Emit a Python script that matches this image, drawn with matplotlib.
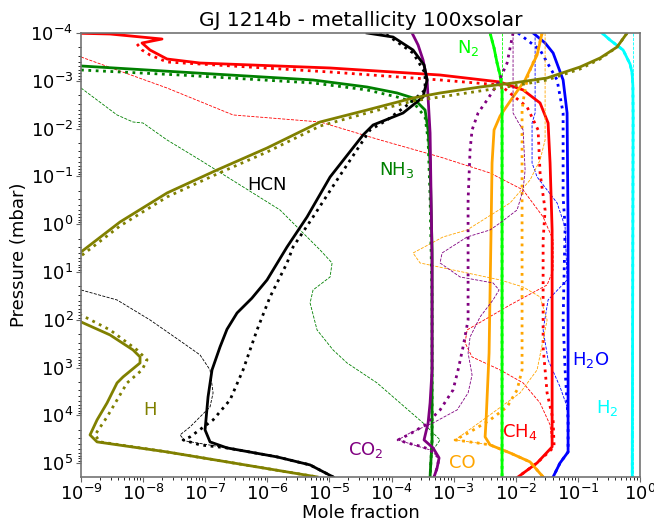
import numpy as np
import matplotlib
matplotlib.use("Agg")
import matplotlib.pyplot as plt
from matplotlib.ticker import LogLocator, NullFormatter

# ---------------- data (log10 pressure [mbar], log10 mole fraction) ----------------
# H2
h2_solid_logp = [-4.0, -3.85, -3.644, -3.35, -3.163, -2.9, -2.243, 5.289]
h2_solid_logx = [-0.61, -0.48, -0.272, -0.16, -0.127, -0.115, -0.111, -0.125]
h2_dash_logp = [-4.0, 5.289]
h2_dash_logx = [-0.111, -0.111]

# H2O
h2o_solid_logp = [-4.0, -3.791, -3.582, -3.017, -2.326, 0.121, 4.661, 4.766, 4.996, 5.289]
h2o_solid_logx = [-1.721, -1.528, -1.399, -1.238, -1.174, -1.158, -1.158, -1.158, -1.287, -1.399]
h2o_dot_logp = [-4.0, -3.644, -3.017, -2.326, -0.569, 0.059, 2.004, 3.05, 4.096, 4.661, 4.766, 4.996, 5.289]
h2o_dot_logx = [-1.963, -1.609, -1.335, -1.238, -1.238, -1.206, -1.238, -1.206, -1.158, -1.158, -1.158, -1.287, -1.399]
h2o_dash_logp = [-4.0, -2.326, -2.117, -1.280, -0.987, -0.444, 0.059, 1.167, 1.586, 2.213, 2.841,
                 3.406, 3.824, 4.243, 4.661, 4.766, 4.996, 5.289]
h2o_dash_logx = [-1.689, -1.689, -1.738, -1.738, -1.657, -1.335, -1.206, -1.174, -1.480, -1.560, -1.480,
                 -1.287, -1.174, -1.158, -1.158, -1.158, -1.287, -1.399]

# CH4
ch4_solid_logp = [-4.0, -3.979, -3.874, -3.791, -3.644, -3.456, -3.372, -3.268, -3.121, -2.975, -2.808,
                  -2.536, -2.117, -1.280, 0.121, 4.661, 4.996, 5.289]
ch4_solid_logx = [-9.2, -8.533, -7.696, -8.018, -7.889, -7.615, -7.084, -4.990, -3.219, -2.253, -1.882,
                  -1.609, -1.480, -1.448, -1.415, -1.415, -1.657, -1.963]
ch4_dot_logp = [-3.770, -3.644, -3.540, -3.393, -3.184, -3.017, -2.912, -2.452, -1.971, -1.071, -0.297,
                0.331, 2.569, 3.531, 4.096, 4.661, 4.996, 5.289]
ch4_dot_logx = [-8.098, -8.018, -7.889, -7.615, -4.990, -3.219, -2.253, -1.818, -1.641, -1.609, -1.528,
                -1.560, -1.560, -1.496, -1.399, -1.383, -1.657, -1.963]
ch4_dash_logp = [-3.498, -2.849, -2.285, -2.138, -1.762, -1.406, -1.071, -0.715, -0.151, 0.331, 0.958,
                 1.272, 1.690, 2.213, 2.485, 2.778, 3.050, 3.322, 3.741, 4.201, 4.661, 4.996, 5.289]
ch4_dash_logx = [-9.0, -7.615, -6.552, -5.151, -4.185, -3.219, -2.414, -1.882, -1.560, -1.399, -1.399,
                 -1.496, -2.092, -2.784, -2.816, -2.704, -2.253, -1.882, -1.609, -1.448, -1.415, -1.657, -1.963]

# CO
co_solid_logp = [-4.0, -3.540, -3.017, -2.661, -2.264, -1.971, -1.280, 0.121, 2.695, 4.096, 4.452,
                 4.619, 4.787, 4.975, 5.289]
co_solid_logx = [-1.576, -1.657, -1.850, -2.044, -2.253, -2.350, -2.382, -2.398, -2.430, -2.478, -2.494,
                 -2.414, -2.092, -1.770, -1.560]
co_dot_logp = [-4.0, -3.582, -3.121, -2.703, -2.389, 3.050, 3.469, 3.824, 4.096, 4.347, 4.515, 4.577,
               4.619, 4.787, 4.975, 5.289]
co_dot_logx = [-1.576, -1.657, -1.802, -1.866, -1.899, -1.899, -1.979, -2.140, -2.414, -2.736, -2.977,
               -2.623, -2.414, -2.092, -1.770, -1.560]
co_dash_logp = [-4.0, -1.762, -1.343, -0.925, -0.444, 0.121, 0.268, 0.603, 0.812, 1.021, 1.167, 1.314,
                1.523, 2.004, 2.423, 3.050, 3.531, 4.096, 4.515, 4.577, 4.619, 4.787, 4.975, 5.289]
co_dash_logx = [-1.528, -1.528, -1.609, -1.770, -2.092, -2.784, -3.171, -3.654, -3.541, -2.784, -2.253,
                -1.882, -1.609, -1.496, -1.560, -1.657, -1.931, -2.527, -2.977, -2.623, -2.414, -2.092,
                -1.770, -1.560]

# N2
n2_solid_logp = [-4.0, -3.686, -3.372, -3.121, -2.808, 5.289]
n2_solid_logx = [-2.414, -2.350, -2.301, -2.253, -2.221, -2.221]
n2_dash_logp = [-4.0, 5.289]
n2_dash_logx = [-2.221, -2.221]

# NH3
nh3_solid_logp = [-3.310, -3.184, -3.017, -2.870, -2.745, -2.640, -2.389, -1.971, -1.280, 0.540, 4.515, 5.289]
nh3_solid_logx = [-9.0, -7.406, -5.264, -4.395, -3.911, -3.654, -3.461, -3.412, -3.380, -3.348, -3.348, -3.380]
nh3_dot_logp = [-3.226, -3.121, -2.954, -2.808, -2.661, -2.556, -2.243, -1.762, -0.569, 1.586, 4.515, 5.289]
nh3_dot_logx = [-9.0, -7.406, -5.264, -4.395, -3.911, -3.654, -3.461, -3.412, -3.380, -3.348, -3.348, -3.380]
nh3_dash_logp = [-2.849, -2.285, -2.138, -2.117, -1.762, -1.343, -0.297, 0.540, 0.812, 1.105, 1.377,
                 1.649, 2.213, 2.632, 2.904, 3.322, 3.741, 4.159, 4.515, 4.724, 4.996, 5.289]
nh3_dash_logx = [-9.0, -8.420, -8.163, -8.002, -7.615, -7.084, -5.796, -5.151, -4.958, -4.990, -5.264,
                 -5.312, -5.200, -4.942, -4.717, -4.234, -3.863, -3.493, -3.219, -3.332, -3.380, -3.380]

# CO2
co2_solid_logp = [-4.0, -3.749, -3.435, -3.017, -1.908, 0.749, 3.050, 3.741, 4.159, 4.515, 4.682,
                  4.891, 5.100, 5.289]
co2_solid_logx = [-3.670, -3.573, -3.493, -3.428, -3.380, -3.348, -3.348, -3.380, -3.412, -3.477, -3.332,
                  -3.235, -3.267, -3.316]
co2_dot_logp = [-4.0, -3.372, -2.954, -2.598, -2.326, -1.971, -1.552, -0.506, 2.004, 2.569, 3.050,
                3.469, 3.887, 4.201, 4.389, 4.515, 4.577, 4.661, 4.724, 4.891, 5.100, 5.289]
co2_dot_logx = [-2.044, -2.140, -2.285, -2.462, -2.607, -2.704, -2.736, -2.768, -2.768, -2.849, -2.929,
                -3.010, -3.219, -3.461, -3.702, -3.895, -3.750, -3.493, -3.380, -3.235, -3.267, -3.316]
co2_dash_logp = [-4.0, -2.326, -2.138, -1.971, -1.134, -0.715, -0.297, -0.025, 0.121, 0.268, 0.603,
                 0.812, 1.105, 1.230, 1.377, 1.586, 1.941, 2.360, 2.695, 3.155, 3.531, 3.887, 4.159,
                 4.368, 4.515, 4.661, 4.724, 4.891, 5.100, 5.289]
co2_dash_logx = [-2.044, -2.044, -1.963, -1.882, -1.850, -1.882, -1.979, -2.253, -2.414, -2.784, -3.187,
                 -3.219, -2.897, -2.366, -2.269, -2.366, -2.575, -2.736, -2.768, -2.704, -2.768, -2.945,
                 -3.332, -3.702, -3.895, -3.541, -3.380, -3.235, -3.267, -3.316]

# HCN
hcn_solid_logp = [-4.0, -3.916, -3.644, -3.331, -3.017, -2.661, -2.326, -2.075, -1.866, -0.987, -0.151,
                  0.477, 1.167, 1.550, 1.858, 2.200, 2.569, 3.050, 3.615, 4.305, 4.556, 4.682, 4.870,
                  5.038, 5.289]
hcn_solid_logx = [-4.395, -3.976, -3.654, -3.477, -3.428, -3.493, -3.815, -4.298, -4.459, -4.990, -5.361,
                  -5.683, -6.005, -6.250, -6.488, -6.650, -6.762, -6.891, -6.955, -7.003, -6.923, -6.649,
                  -5.844, -5.312, -4.942]
hcn_dot_logp = [-4.0, -3.958, -3.582, -3.163, -2.808, -2.536, -2.180, -1.971, -0.925, -0.151, 0.477,
                0.812, 1.523, 2.213, 3.050, 3.678, 4.096, 4.452, 4.515, 4.619, 4.682, 4.870, 5.038, 5.289]
hcn_dot_logx = [-4.2, -4.072, -3.654, -3.461, -3.461, -3.702, -4.072, -4.346, -4.878, -5.264, -5.586,
                -5.683, -5.957, -6.166, -6.391, -6.601, -6.874, -7.245, -7.357, -7.084, -6.649, -5.844,
                -5.312, -4.942]
hcn_dash_logp = [1.377, 1.586, 2.004, 2.485, 2.736, 3.050, 3.531, 3.824, 4.033, 4.243, 4.410, 4.536,
                 4.682, 4.870, 5.038, 5.289]
hcn_dash_logx = [-9.0, -8.420, -7.889, -7.357, -7.084, -6.923, -6.874, -6.923, -7.084, -7.245, -7.406,
                 -7.325, -6.649, -5.844, -5.312, -4.942]

# H
h_solid_logp = [-4.0, -3.707, -3.477, -3.289, -3.059, -2.954, -2.870, -2.745, -2.640, -2.389, -2.138,
                -1.594, -1.134, -0.653, -0.046, 0.582, 1.272, 2.046, 2.318, 2.632, 2.778, 2.904, 3.197,
                3.322, 3.741, 4.096, 4.410, 4.556, 4.766, 4.996, 5.289]
h_solid_logx = [-0.208, -0.369, -0.643, -0.965, -1.496, -2.044, -2.575, -3.219, -3.654, -4.395, -5.151,
                -6.005, -6.810, -7.615, -8.372, -9.0, -9.660, -9.0, -8.533, -8.163, -8.050, -8.050, -8.324,
                -8.420, -8.581, -8.742, -8.855, -8.742, -7.615, -6.552, -5.200]
h_dot_logp = [-4.0, -3.707, -3.456, -3.247, -3.017, -2.891, -2.787, -2.661, -2.577, -2.326, -2.054,
              -1.510, -1.050, -0.569, 0.038, 0.665, 1.272, 1.900, 2.213, 2.632, 2.841, 3.050, 3.322,
              3.678, 4.033, 4.410, 4.556, 4.766, 4.996, 5.289]
h_dot_logx = [-0.208, -0.369, -0.643, -0.965, -1.496, -2.044, -2.575, -3.219, -3.654, -4.395, -5.151,
              -6.005, -6.810, -7.615, -8.372, -9.0, -9.660, -9.0, -8.533, -8.098, -7.937, -8.018, -8.259,
              -8.420, -8.581, -8.775, -8.694, -7.615, -6.552, -5.200]

# species labels
label_texts = ["N$_2$", "NH$_3$", "HCN", "H$_2$O", "H$_2$", "CH$_4$", "CO$_2$", "CO", "H"]
label_x = [1.7e-3, 1.23e-4, 1.0e-6, 0.16, 0.30, 0.0117, 3.9e-5, 1.38e-3, 1.3e-8]
label_p = [2.1e-4, 0.074, 0.15, 690, 7000, 2.2e4, 5.3e4, 1.0e5, 7.8e3]
label_colors = ["lime", "green", "black", "blue", "cyan", "red", "purple", "orange", "olive"]

# ---------------- plotting ----------------
fig = plt.figure(figsize=(6.54, 5.23), dpi=100)
ax = fig.add_axes([0.1239, 0.0880, 0.8547, 0.8489])

def P(a):
    return 10.0 ** np.asarray(a)

LW = 2.0
DLW = 0.6

curves = [
    ("cyan", h2_solid_logx, h2_solid_logp, h2_solid_logx, h2_solid_logp, h2_dash_logx, h2_dash_logp),
    ("blue", h2o_solid_logx, h2o_solid_logp, h2o_dot_logx, h2o_dot_logp, h2o_dash_logx, h2o_dash_logp),
    ("red", ch4_solid_logx, ch4_solid_logp, ch4_dot_logx, ch4_dot_logp, ch4_dash_logx, ch4_dash_logp),
    ("orange", co_solid_logx, co_solid_logp, co_dot_logx, co_dot_logp, co_dash_logx, co_dash_logp),
    ("lime", n2_solid_logx, n2_solid_logp, n2_solid_logx, n2_solid_logp, n2_dash_logx, n2_dash_logp),
    ("green", nh3_solid_logx, nh3_solid_logp, nh3_dot_logx, nh3_dot_logp, nh3_dash_logx, nh3_dash_logp),
    ("purple", co2_solid_logx, co2_solid_logp, co2_dot_logx, co2_dot_logp, co2_dash_logx, co2_dash_logp),
    ("black", hcn_solid_logx, hcn_solid_logp, hcn_dot_logx, hcn_dot_logp, hcn_dash_logx, hcn_dash_logp),
    ("olive", h_solid_logx, h_solid_logp, h_dot_logx, h_dot_logp, None, None),
]

for col, sx, sp, dx, dp, ex, ep in curves:
    if ex is not None:
        ax.plot(P(ex), P(ep), color=col, lw=DLW, ls="--")
    ax.plot(P(dx), P(dp), color=col, lw=LW, ls=":")
    ax.plot(P(sx), P(sp), color=col, lw=LW, ls="-")

for t, x, p, c in zip(label_texts, label_x, label_p, label_colors):
    ax.text(x, p, t, color=c, fontsize=13, ha="center", va="center")

ax.set_xscale("log")
ax.set_yscale("log")
ax.set_xlim(1e-9, 1.0)
ax.set_ylim(1.95e5, 1e-4)

ax.xaxis.set_major_locator(LogLocator(base=10, numticks=20))
ax.yaxis.set_major_locator(LogLocator(base=10, numticks=20))
ax.xaxis.set_minor_locator(LogLocator(base=10, subs=np.arange(2, 10), numticks=20))
ax.yaxis.set_minor_locator(LogLocator(base=10, subs=np.arange(2, 10), numticks=20))
ax.xaxis.set_minor_formatter(NullFormatter())
ax.yaxis.set_minor_formatter(NullFormatter())

ax.tick_params(labelsize=13, color="0.4", pad=2)
ax.tick_params(axis="x", pad=1.5)
for s in ax.spines.values():
    s.set_color("0.45")
    s.set_linewidth(1.2)

ax.set_xlabel("Mole fraction", fontsize=13, labelpad=0)
ax.set_ylabel("Pressure (mbar)", fontsize=13, labelpad=2)
ax.set_title("GJ 1214b - metallicity 100xsolar", fontsize=14.5, pad=5)

fig.savefig("out.png", dpi=100)
